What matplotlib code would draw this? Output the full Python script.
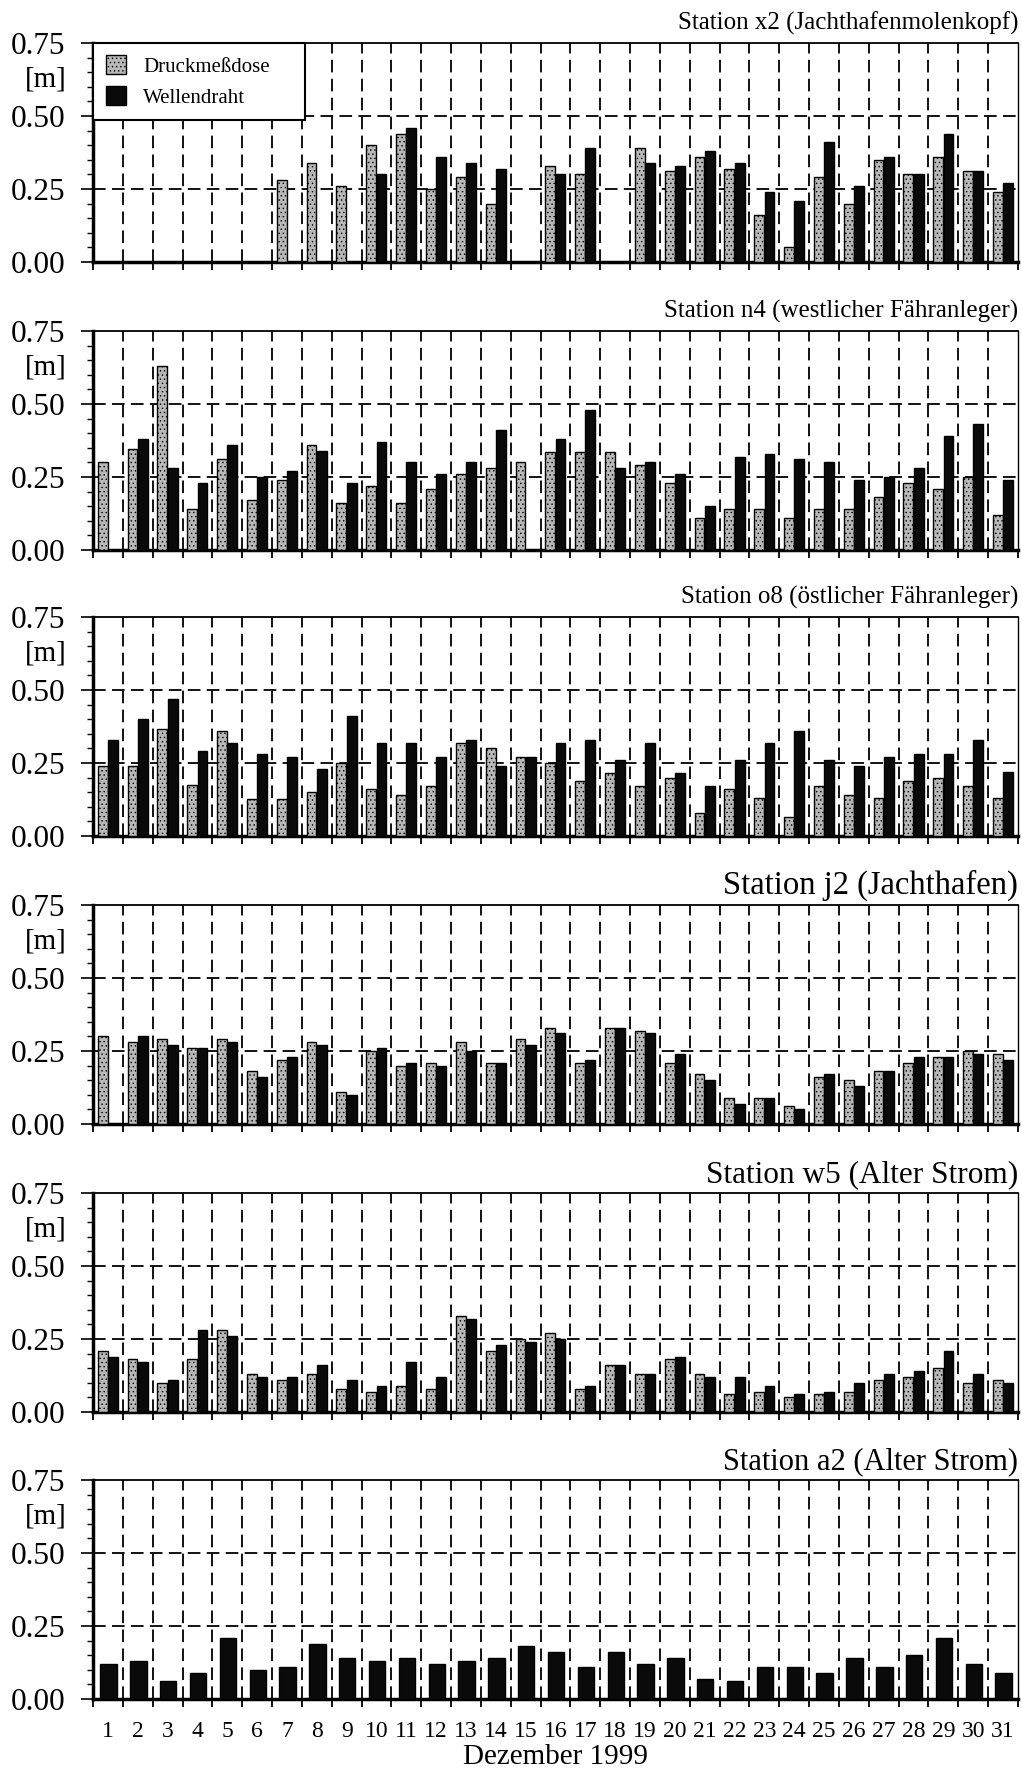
import numpy as np
import matplotlib.pyplot as plt
from matplotlib.ticker import MultipleLocator, FixedLocator, NullFormatter, FormatStrFormatter
import matplotlib.transforms as mtransforms

plt.rcParams['font.family'] = ['Liberation Serif', 'DejaVu Serif']
plt.rcParams['hatch.linewidth'] = 0.5

days = np.arange(1, 32)
day_labels = [str(d) for d in days]

titles = ['Station x2 (Jachthafenmolenkopf)',
          'Station n4 (westlicher Fähranleger)',
          'Station o8 (östlicher Fähranleger)',
          'Station j2 (Jachthafen)',
          'Station w5 (Alter Strom)',
          'Station a2 (Alter Strom)']
# the titles in the scan are squeezed to roughly equal widths
title_sizes = [18.0, 18.0, 18.0, 23.5, 22.5, 22.0]
title_pads = [10, 10, 10, 8, 8, 8]

# Druckmessdose (grey) / Wellendraht (black), 0 = no measurement
x2_druck = [0, 0, 0, 0, 0, 0, 0.28, 0.34, 0.26, 0.40, 0.44, 0.25, 0.29, 0.20, 0, 0.33,
            0.30, 0, 0.39, 0.31, 0.36, 0.32, 0.16, 0.05, 0.29, 0.20, 0.35, 0.30, 0.36, 0.31, 0.24]
x2_welle = [0, 0, 0, 0, 0, 0, 0, 0, 0, 0.30, 0.46, 0.36, 0.34, 0.32, 0, 0.30,
            0.39, 0, 0.34, 0.33, 0.38, 0.34, 0.24, 0.21, 0.41, 0.26, 0.36, 0.30, 0.44, 0.31, 0.27]

n4_druck = [0.30, 0.345, 0.63, 0.14, 0.31, 0.17, 0.24, 0.36, 0.16, 0.22, 0.16, 0.21, 0.26, 0.28, 0.30, 0.335,
            0.335, 0.335, 0.29, 0.23, 0.11, 0.14, 0.14, 0.11, 0.14, 0.14, 0.18, 0.23, 0.21, 0.25, 0.12]
n4_welle = [0, 0.38, 0.28, 0.23, 0.36, 0.25, 0.27, 0.34, 0.23, 0.37, 0.30, 0.26, 0.30, 0.41, 0, 0.38,
            0.48, 0.28, 0.30, 0.26, 0.15, 0.32, 0.33, 0.31, 0.30, 0.24, 0.25, 0.28, 0.39, 0.43, 0.24]

o8_druck = [0.24, 0.24, 0.365, 0.175, 0.36, 0.125, 0.125, 0.15, 0.25, 0.16, 0.14, 0.17, 0.32, 0.30, 0.27, 0.25,
            0.19, 0.215, 0.17, 0.20, 0.08, 0.16, 0.13, 0.065, 0.17, 0.14, 0.13, 0.19, 0.20, 0.17, 0.13]
o8_welle = [0.33, 0.40, 0.47, 0.29, 0.32, 0.28, 0.27, 0.23, 0.41, 0.32, 0.32, 0.27, 0.33, 0.24, 0.27, 0.32,
            0.33, 0.26, 0.32, 0.215, 0.17, 0.26, 0.32, 0.36, 0.26, 0.24, 0.27, 0.28, 0.28, 0.33, 0.22]

j2_druck = [0.30, 0.28, 0.29, 0.26, 0.29, 0.18, 0.22, 0.28, 0.11, 0.25, 0.20, 0.21, 0.28, 0.21, 0.29, 0.33,
            0.21, 0.33, 0.32, 0.21, 0.17, 0.09, 0.09, 0.06, 0.16, 0.15, 0.18, 0.21, 0.23, 0.25, 0.24]
j2_welle = [0, 0.30, 0.27, 0.26, 0.28, 0.16, 0.23, 0.27, 0.10, 0.26, 0.21, 0.20, 0.25, 0.21, 0.27, 0.31,
            0.22, 0.33, 0.31, 0.24, 0.15, 0.07, 0.09, 0.05, 0.17, 0.13, 0.18, 0.23, 0.23, 0.24, 0.22]

w5_druck = [0.21, 0.18, 0.10, 0.18, 0.28, 0.13, 0.11, 0.13, 0.08, 0.07, 0.09, 0.08, 0.33, 0.21, 0.25, 0.27,
            0.08, 0.16, 0.13, 0.18, 0.13, 0.06, 0.07, 0.05, 0.06, 0.07, 0.11, 0.12, 0.15, 0.10, 0.11]
w5_welle = [0.19, 0.17, 0.11, 0.28, 0.26, 0.12, 0.12, 0.16, 0.11, 0.09, 0.17, 0.12, 0.32, 0.23, 0.24, 0.25,
            0.09, 0.16, 0.13, 0.19, 0.12, 0.12, 0.09, 0.06, 0.07, 0.10, 0.13, 0.14, 0.21, 0.13, 0.10]

a2_druck = None
a2_welle = [0.12, 0.13, 0.06, 0.09, 0.21, 0.10, 0.11, 0.19, 0.14, 0.13, 0.14, 0.12, 0.13, 0.14, 0.18, 0.16,
            0.11, 0.16, 0.12, 0.14, 0.07, 0.06, 0.11, 0.11, 0.09, 0.14, 0.11, 0.15, 0.21, 0.12, 0.09]

stations = [(x2_druck, x2_welle), (n4_druck, n4_welle), (o8_druck, o8_welle),
            (j2_druck, j2_welle), (w5_druck, w5_welle), (a2_druck, a2_welle)]

W, H = 1022, 1769
fig = plt.figure(figsize=(W / 100, H / 100), dpi=100)

left, right = 93, 1018
tops = [43, 331, 617, 905, 1193, 1480]
ph = 219

grey = '#b8b8b8'
dash = (0, (7, 3.5))

for i, (title, (druck, welle)) in enumerate(zip(titles, stations)):
    ax = fig.add_axes([left / W, 1 - (tops[i] + ph) / H, (right - left) / W, ph / H])
    ax.set_xlim(0.5, 31.5)
    ax.set_ylim(0, 0.75)

    if druck is not None:
        ax.bar(days - 0.175, druck, width=0.33, color=grey, edgecolor='black',
               linewidth=1.0, hatch='....', zorder=3, label='Druckmeßdose')
        ax.bar(days + 0.17, welle, width=0.33, color='#0a0a0a', edgecolor='black',
               linewidth=1.0, zorder=3, label='Wellendraht')
    else:
        ax.bar(days + 0.02, welle, width=0.55, color='#0a0a0a', edgecolor='black',
               linewidth=1.0, zorder=3)

    # dashed grid: day boundaries and 0.25 / 0.50
    for b in np.arange(1.5, 31, 1.0):
        ax.axvline(b, color='black', lw=1.3, ls=dash, zorder=1)
    for yv in (0.25, 0.5):
        ax.axhline(yv, color='black', lw=1.3, ls=dash, zorder=1)

    ax.yaxis.set_major_locator(MultipleLocator(0.25))
    ax.yaxis.set_minor_locator(MultipleLocator(0.05))
    ax.yaxis.set_major_formatter(FormatStrFormatter('%.2f'))
    ax.tick_params(axis='y', which='major', direction='out', length=9, width=1.2,
                   labelsize=22.5, pad=11)
    ax.tick_params(axis='y', which='minor', direction='out', length=4, width=1.0)

    ax.xaxis.set_major_locator(FixedLocator(days))
    ax.xaxis.set_minor_locator(FixedLocator(np.arange(0.5, 32, 1.0)))
    ax.tick_params(axis='x', which='major', length=0, labelsize=17, pad=16)
    ax.tick_params(axis='x', which='minor', direction='out', length=6, width=1.3)
    if i == len(titles) - 1:
        ax.set_xticklabels(day_labels)
        ax.set_xlabel('Dezember 1999', fontsize=21, labelpad=1)
    else:
        ax.xaxis.set_major_formatter(NullFormatter())

    ax.spines['left'].set_linewidth(2.5)
    ax.spines['bottom'].set_linewidth(2.5)
    ax.spines['top'].set_linewidth(1.3)
    ax.spines['right'].set_linewidth(1.0)

    ax.set_title(title, loc='right', fontsize=title_sizes[i], pad=title_pads[i])

    trans = mtransforms.blended_transform_factory(ax.transAxes, ax.transData)
    ax.text(-0.028, 0.625, '[m]', transform=trans, ha='right', va='center', fontsize=21)

    if i == 0:
        leg = ax.legend(loc='upper left', bbox_to_anchor=(0, 0, 0.229, 1), mode='expand',
                        fontsize=15, frameon=True, fancybox=False,
                        framealpha=1, edgecolor='black', borderaxespad=0,
                        handlelength=1.0, handleheight=1.0, handletextpad=0.8,
                        borderpad=0.6, labelspacing=0.45)
        leg.get_frame().set_linewidth(1.5)
        leg.set_zorder(5)

fig.savefig('out.png', dpi=100)
